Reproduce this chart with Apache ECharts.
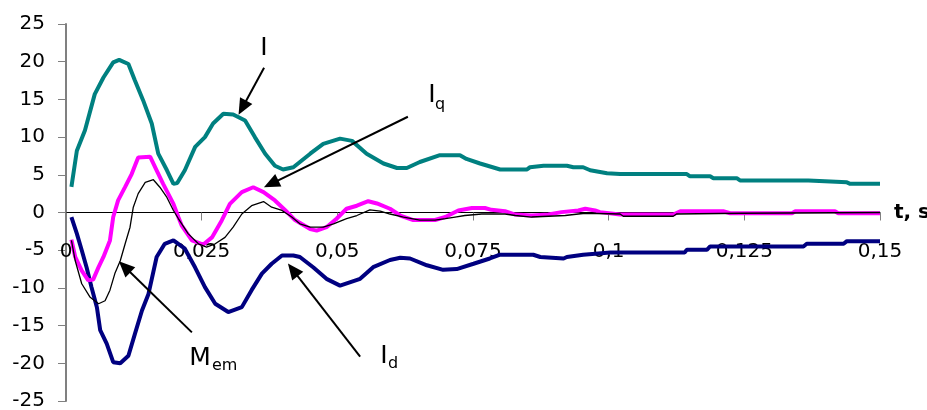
<!DOCTYPE html>
<html>
<head>
<meta charset="utf-8">
<script src="https://cdn.jsdelivr.net/npm/echarts@6/dist/echarts.min.js"></script>
<style>
html,body{margin:0;padding:0;background:#fff;}
#chart{width:927px;height:410px;}
</style>
</head>
<body>
<div id="chart"></div>
<script>
// ---- data (time in s) ----
var tI = [0.001,0.002,0.0035,0.0053,0.0069,0.0087,0.0098,0.0115,0.0127,0.0142,0.0158,0.017,0.0186,0.0198,0.0205,0.0219,0.0238,0.0256,0.0271,0.029,0.0308,0.033,0.0348,0.0367,0.0385,0.04,0.0419,0.045,0.0474,0.0505,0.0527,0.0554,0.0585,0.061,0.0628,0.0652,0.0689,0.0726,0.0738,0.0763,0.08,0.0849,0.0855,0.088,0.0923,0.0935,0.0953,0.0966,0.0997,0.1021,0.1144,0.115,0.1187,0.1193,0.1236,0.1242,0.1368,0.1371,0.1439,0.1445,0.15];
var vI = [3.4,8.2,10.9,15.7,17.9,19.9,20.25,19.7,17.5,14.9,11.8,7.8,5.6,3.8,3.9,5.6,8.7,10.0,11.8,13.1,13.0,12.2,10.0,7.8,6.2,5.7,6.0,7.8,9.1,9.8,9.5,7.8,6.5,5.9,5.9,6.7,7.6,7.6,7.1,6.5,5.7,5.7,6.0,6.2,6.2,6.0,6.0,5.6,5.2,5.1,5.1,4.8,4.8,4.55,4.55,4.25,4.25,4.0,4.0,3.8,3.8];

var tId = [0.001,0.002,0.0029,0.0038,0.0047,0.0057,0.0063,0.0075,0.0087,0.01,0.0115,0.0127,0.014,0.0152,0.0167,0.0182,0.0198,0.0219,0.0238,0.0256,0.0275,0.0299,0.0324,0.0342,0.0361,0.0379,0.0398,0.0419,0.0431,0.0456,0.048,0.0505,0.0542,0.0566,0.0597,0.0616,0.0634,0.0665,0.0695,0.072,0.0751,0.0781,0.08,0.0861,0.0874,0.0917,0.0923,0.0953,0.1003,0.114,0.1144,0.1181,0.1187,0.1359,0.1365,0.1433,0.1439,0.15];
var vId = [-0.6,-2.8,-5.0,-7.3,-9.9,-12.6,-15.6,-17.4,-19.85,-20.0,-19.0,-16.1,-13.0,-10.8,-5.9,-4.15,-3.7,-4.8,-7.3,-9.9,-12.1,-13.2,-12.55,-10.3,-8.1,-6.8,-5.7,-5.7,-5.9,-7.3,-8.8,-9.7,-8.8,-7.25,-6.3,-6.0,-6.1,-7.0,-7.6,-7.5,-6.8,-6.1,-5.6,-5.6,-5.9,-6.1,-5.9,-5.6,-5.3,-5.3,-4.95,-4.95,-4.5,-4.5,-4.15,-4.15,-3.8,-3.8];

var tIq = [0.001,0.0017,0.0029,0.0041,0.005,0.006,0.0069,0.0081,0.0087,0.0096,0.0109,0.0121,0.0133,0.0155,0.0167,0.0179,0.0198,0.0207,0.0213,0.0232,0.0253,0.0269,0.0287,0.0302,0.0324,0.0345,0.0364,0.0385,0.0404,0.0422,0.045,0.0462,0.048,0.0499,0.0517,0.0536,0.0557,0.0573,0.0597,0.0616,0.064,0.068,0.0699,0.0723,0.0748,0.0772,0.0784,0.0809,0.0828,0.0858,0.0889,0.0913,0.0944,0.0957,0.0975,0.0984,0.1021,0.1119,0.1132,0.1211,0.1224,0.1338,0.1344,0.1417,0.1423,0.15];
var vIq = [-3.6,-5.9,-7.7,-9.0,-8.9,-7.25,-5.9,-3.7,-0.6,1.6,3.4,5.1,7.3,7.4,5.6,3.8,1.15,-0.6,-1.7,-3.7,-4.25,-3.3,-1.06,1.15,2.7,3.35,2.7,1.6,0.3,-1.0,-2.2,-2.4,-1.95,-0.8,0.5,0.9,1.5,1.2,0.5,-0.4,-1.0,-1.0,-0.6,0.27,0.6,0.6,0.35,0.17,-0.27,-0.4,-0.27,0.05,0.27,0.5,0.27,0.05,-0.27,-0.27,0.17,0.17,-0.1,-0.1,0.17,0.17,-0.1,-0.1];

var tMem = [0.001,0.0017,0.0029,0.0044,0.006,0.0072,0.0081,0.009,0.01,0.0109,0.0118,0.0124,0.0133,0.0146,0.0161,0.0173,0.0186,0.0198,0.0207,0.0225,0.0244,0.0259,0.0275,0.0293,0.0308,0.0324,0.0342,0.0364,0.0379,0.0398,0.0416,0.0431,0.045,0.0474,0.0493,0.0517,0.0536,0.056,0.0579,0.0597,0.0622,0.0652,0.068,0.0699,0.0717,0.0735,0.0766,0.0809,0.0828,0.0858,0.0889,0.092,0.0944,0.0957,0.1021,0.1027,0.1119,0.1125,0.1242,0.15];
var vMem = [-3.7,-6.4,-9.45,-11.2,-12.1,-11.7,-10.3,-8.1,-6.4,-4.15,-1.95,0.7,2.5,4.0,4.35,3.35,2.0,0.27,-0.8,-2.8,-4.15,-4.6,-4.15,-3.3,-1.95,-0.2,0.9,1.45,0.7,0.27,-0.6,-1.5,-1.95,-1.95,-1.5,-0.8,-0.4,0.35,0.17,-0.2,-0.6,-1.0,-1.0,-0.8,-0.6,-0.4,-0.2,-0.2,-0.4,-0.6,-0.5,-0.4,-0.2,-0.1,-0.2,-0.5,-0.5,-0.2,-0.1,0.0];

var xTicks = {min: 0, max: 0.15, step: 0.025};
var yTicks = {min: -25, max: 25, step: 5};

// annotation arrows in data units: [from, to]
var arrowI   = [[0.0365, 19.2], [0.0325, 13.9]];
var arrowIq  = [[0.063, 12.7], [0.0378, 3.8]];
var arrowMem = [[0.0232, -15.9], [0.0108, -7.2]];
var arrowId  = [[0.0542, -19.1], [0.0418, -7.6]];

function pairs(t, v) { return t.map(function (x, i) { return [x, v[i]]; }); }
function arrow(a) { return [{coord: a[0]}, {coord: a[1]}]; }

var FONT = 'DejaVu Sans';
var GRID = {left: 66, right: 47, top: 24, bottom: 9};
var chartH = 410;
// offset that moves the bottom x axis up to y = 0
var zeroOffset = -((chartH - GRID.top - GRID.bottom) * (0 - yTicks.min) / (yTicks.max - yTicks.min));

var chart = echarts.init(document.getElementById('chart'), null, {renderer: 'canvas'});

chart.setOption({
  animation: false,
  backgroundColor: '#ffffff',
  grid: {left: GRID.left, right: GRID.right, top: GRID.top, bottom: GRID.bottom, containLabel: false, outerBoundsMode: 'none'},
  xAxis: {
    type: 'value', min: xTicks.min, max: xTicks.max, interval: xTicks.step,
    position: 'bottom', offset: zeroOffset,
    name: 't, s', nameLocation: 'end', nameGap: 14,
    nameTextStyle: {fontFamily: FONT, fontSize: 20, fontWeight: 'bold', color: '#000', verticalAlign: 'middle', padding: [6, 0, 0, 0]},
    axisLine: {onZero: false, lineStyle: {color: '#000', width: 1}},
    axisTick: {show: true, inside: false, length: 8, lineStyle: {color: '#808080', width: 1}},
    axisLabel: {
      margin: 29, fontFamily: FONT, fontSize: 20, color: '#000',
      formatter: function (v) { return String(parseFloat(v.toFixed(3))).replace('.', ','); }
    },
    splitLine: {show: false}
  },
  yAxis: {
    type: 'value', min: yTicks.min, max: yTicks.max, interval: yTicks.step,
    axisLine: {show: true, onZero: false, lineStyle: {color: '#808080', width: 2}},
    axisTick: {show: true, inside: false, length: 8, lineStyle: {color: '#808080', width: 1}},
    axisLabel: {margin: 21, fontFamily: FONT, fontSize: 20, color: '#000'},
    splitLine: {show: false}
  },
  series: [
    {name: 'I', type: 'line', data: pairs(tI, vI), showSymbol: false, lineStyle: {color: '#008080', width: 4}, z: 2},
    {name: 'Id', type: 'line', data: pairs(tId, vId), showSymbol: false, lineStyle: {color: '#000080', width: 4}, z: 2},
    {name: 'Iq', type: 'line', data: pairs(tIq, vIq), showSymbol: false, lineStyle: {color: '#FF00FF', width: 4}, z: 3},
    {name: 'Mem', type: 'line', data: pairs(tMem, vMem), showSymbol: false, lineStyle: {color: '#000000', width: 1.3}, z: 4},
    {
      name: 'arrows', type: 'line', data: [], z: 5,
      markLine: {
        silent: true, animation: false,
        symbol: ['none', 'triangle'], symbolSize: [14, 16],
        lineStyle: {color: '#000', width: 2, type: 'solid'},
        label: {show: false},
        data: [arrow(arrowI), arrow(arrowIq), arrow(arrowMem), arrow(arrowId)]
      }
    }
  ],
  graphic: [
    {type: 'text', x: 264, y: 48, style: {text: 'I', font: '25px "' + FONT + '"', fill: '#000', align: 'center', verticalAlign: 'middle'}},
    {type: 'text', x: 432, y: 95, style: {text: 'I', font: '25px "' + FONT + '"', fill: '#000', align: 'center', verticalAlign: 'middle'}},
    {type: 'text', x: 435, y: 105, style: {text: 'q', font: '16px "' + FONT + '"', fill: '#000', align: 'left', verticalAlign: 'middle'}},
    {type: 'text', x: 200, y: 358, style: {text: 'M', font: '25px "' + FONT + '"', fill: '#000', align: 'center', verticalAlign: 'middle'}},
    {type: 'text', x: 212, y: 366, style: {text: 'em', font: '16px "' + FONT + '"', fill: '#000', align: 'left', verticalAlign: 'middle'}},
    {type: 'text', x: 384, y: 356, style: {text: 'I', font: '25px "' + FONT + '"', fill: '#000', align: 'center', verticalAlign: 'middle'}},
    {type: 'text', x: 388, y: 364, style: {text: 'd', font: '16px "' + FONT + '"', fill: '#000', align: 'left', verticalAlign: 'middle'}}
  ]
});
</script>
</body>
</html>
